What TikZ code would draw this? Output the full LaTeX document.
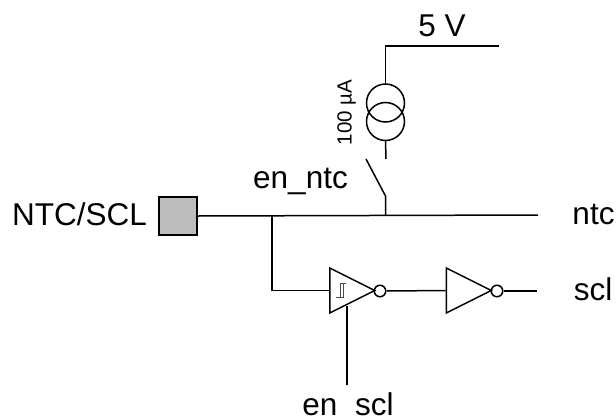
\documentclass[tikz,border=0pt]{standalone}
\usepackage{fontspec}
\setmainfont{Liberation Sans}
\usetikzlibrary{shapes.geometric}
\tikzstyle{wire}=[line width=1.5pt]
\tikzstyle{padbox}=[rectangle, draw, line width=1.5pt, fill=black!26, inner sep=0pt, minimum size=38pt]
\tikzstyle{inverter}=[isosceles triangle, draw, line width=1.5pt, isosceles triangle apex angle=53.13, isosceles triangle stretches, inner sep=0pt, minimum width=45pt, minimum height=45pt]
\tikzstyle{bubble}=[circle, draw, line width=1.5pt, inner sep=0pt, minimum size=11.5pt]
\tikzstyle{source}=[circle, draw, line width=1.5pt, inner sep=0pt, minimum size=38pt]
\tikzstyle{caption}=[font=\fontsize{31.5}{31.5}\selectfont, inner sep=0pt, anchor=base]

\begin{document}
\begin{tikzpicture}[x=1pt, y=-1pt]
\useasboundingbox (0,0) rectangle (616,418);
\node[padbox] (P) at (178,216) {};
\node[inverter, anchor=lower side] (A) at (329,290.5) {};
\node[bubble] (B1) at (380,291) {};
\node[inverter, anchor=lower side] (C) at (445.5,290.5) {};
\node[bubble] (B2) at (497,291) {};
\node[source] (I1) at (385.5,103) {};
\node[source] (I2) at (385.5,121.5) {};
% wire ends
\coordinate (top) at (499,46);
\coordinate (corner) at (385.5,46);
\coordinate (swa) at (386,159);
\coordinate (swb) at (366,159);
\coordinate (swc) at (385.5,196);
\coordinate (tap) at (385.5,215);
\coordinate (ntc) at (538,215);
\coordinate (jn) at (272,215);
\coordinate (jm) at (272,290.5);
\coordinate (scl) at (537,291);
\coordinate (enb) at (347,385);
\coordinate (ena) at (347,306);
% labels
\node[caption] (lpad) at (79.5,225) {NTC/SCL};
\node[caption] (lfive) at (442,36.5) {5 V};
\node[caption] (lnen) at (300.5,188) {en\_ntc};
\node[caption] (lntc) at (593.5,224) {ntc};
\node[caption] (lscl) at (593,300) {scl};
\node[caption] (lsen) at (348,415) {en\_scl};
\node[font=\fontsize{20.5}{20.5}\selectfont, inner sep=0pt, rotate=90] (lcur) at (346.5,112.5) {100 µA};
% connections
\draw[wire] (top) -- (corner) -- (I1.north);
\draw[wire] (I2.south) -- (swa);
\draw[wire] (swb) -- (swc) -- (tap);
\draw[wire] (P.east) -- (ntc);
\draw[wire] (jn) -- (jm) -- (A.lower side);
\draw[wire] (B1.east) -- (C.lower side);
\draw[wire] (B2.east) -- (scl);
\draw[wire] (ena) -- (enb);
% schmitt mark
\draw[line width=0.7pt, black!70] (336,297.5) -- (343.5,297.5) -- (343.5,283.5) -- (346,283.5);
\draw[line width=0.7pt, black!70] (340,297.5) -- (340,283.5) -- (346,283.5);
\end{tikzpicture}
\end{document}
